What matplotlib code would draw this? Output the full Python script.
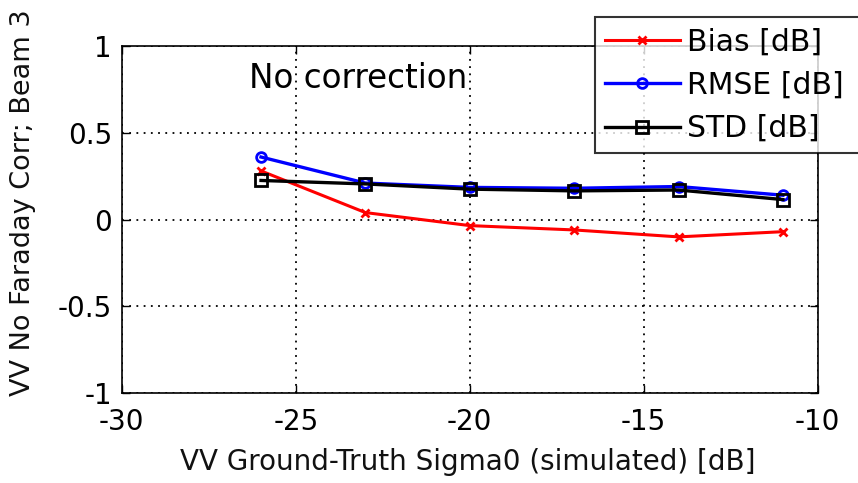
import matplotlib
matplotlib.use("Agg")
import matplotlib.pyplot as plt

plt.rcParams['font.family'] = ['DejaVu Sans']
plt.rcParams['axes.unicode_minus'] = False

x_vals = [-26, -23, -20, -17, -14, -11]
bias = [0.28, 0.04, -0.035, -0.06, -0.10, -0.07]
rmse = [0.36, 0.21, 0.185, 0.18, 0.19, 0.14]
std = [0.225, 0.205, 0.175, 0.165, 0.17, 0.115]
xticks = [-30, -25, -20, -15, -10]
yticks = [-1, -0.5, 0, 0.5, 1]
ytick_labels = ['-1', '-0.5', '0', '0.5', '1']

fig = plt.figure(figsize=(8.58, 4.83), dpi=100)
ax = fig.add_axes([0.142, 0.186, 0.811, 0.719])

l1, = ax.plot(x_vals, bias, color='red', lw=2.2, marker='x', ms=6, mew=2, label='Bias [dB]')
l2, = ax.plot(x_vals, rmse, color='blue', lw=2.4, marker='o', ms=7, mew=2, mfc='none', label='RMSE [dB]')
l3, = ax.plot(x_vals, std, color='black', lw=2.4, marker='s', ms=8, mew=2, mfc='none', label='STD [dB]')

ax.set_xlim(-30, -10)
ax.set_ylim(-1, 1)
ax.set_xticks(xticks)
ax.set_yticks(yticks)
ax.set_yticklabels(ytick_labels)
ax.tick_params(direction='in', labelsize=20, length=6, width=1, top=True, right=True)
ax.tick_params(axis='x', pad=11)
ax.tick_params(axis='y', pad=7)
ax.grid(True, color='black', linestyle=(0, (1, 3)), linewidth=1.3)
for s in ax.spines.values():
    s.set_linewidth(1.2)

ax.text(-26.35, 0.81, 'No correction', fontsize=23.5, va='center', ha='left')

fig.text(0.545, 0.043, 'VV Ground-Truth Sigma0 (simulated) [dB]', fontsize=20, color='#111111',
         ha='center', va='center')
fig.text(0.027, 0.180, 'VV No Faraday Corr; Beam 3', fontsize=19.5, color='#111111',
         rotation=90, ha='center', va='bottom')

leg = fig.legend(handles=[l1, l2, l3], loc='upper left', bbox_to_anchor=(0.693, 0.965, 0.42, 0),
                 mode='expand', fontsize=21.5, frameon=True, fancybox=False, edgecolor='black',
                 handlelength=2.5, handletextpad=0.25, borderpad=0.35, labelspacing=0.48,
                 borderaxespad=0)
leg.get_frame().set_linewidth(1.5)

fig.savefig('out.png', dpi=100)
